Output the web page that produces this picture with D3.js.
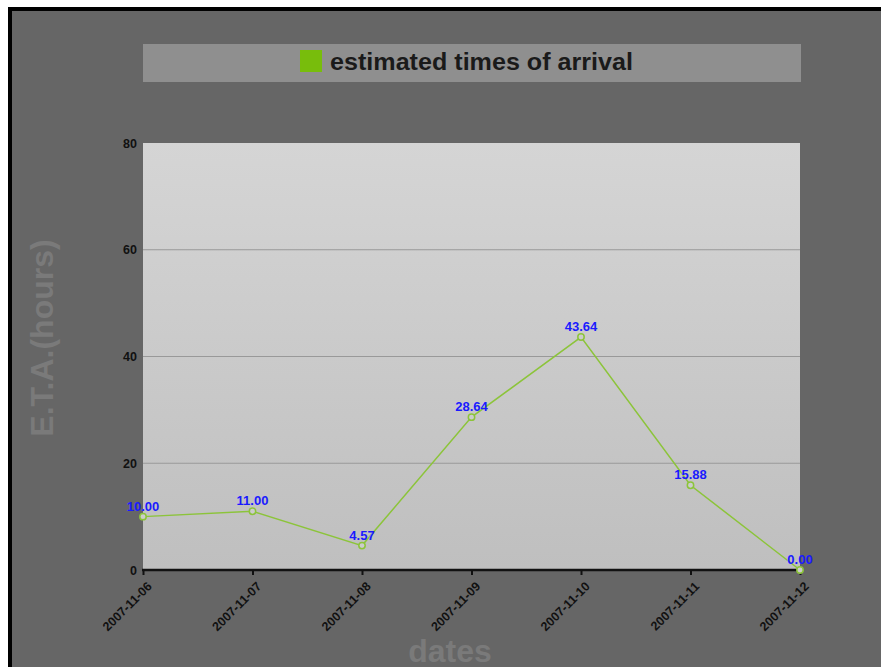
<!DOCTYPE html>
<html>
<head>
<meta charset="utf-8">
<script src="https://cdn.jsdelivr.net/npm/d3@7"></script>
<style>
  html, body { margin: 0; padding: 0; background: #ffffff; }
  svg { display: block; }
</style>
</head>
<body>
<div id="chart"></div>
<script>
// Series: estimated times of arrival per day
const dates = ["2007-11-06", "2007-11-07", "2007-11-08", "2007-11-09", "2007-11-10", "2007-11-11", "2007-11-12"];
const etaHours = [10.00, 11.00, 4.57, 28.64, 43.64, 15.88, 0.00];
const yTicks = [0, 20, 40, 60, 80];
const legendLabel = "estimated times of arrival";
const xTitle = "dates";
const yTitle = "E.T.A.(hours)";

const W = 881, H = 667;
const plot = { left: 143, right: 800, top: 143, bottom: 570 };
const font = "'Liberation Sans', Arial, Helvetica, sans-serif";
const green = "#8cc43a";

const svg = d3.select("#chart").append("svg")
  .attr("width", W).attr("height", H);

const defs = svg.append("defs");
const grad = defs.append("linearGradient")
  .attr("id", "plotBg").attr("x1", 0).attr("y1", 0).attr("x2", 0).attr("y2", 1);
grad.append("stop").attr("offset", "0%").attr("stop-color", "#d5d5d5");
grad.append("stop").attr("offset", "100%").attr("stop-color", "#bfbfbf");

// Outer frame: black border on the top and left, dark grey panel
svg.append("rect").attr("x", 8).attr("y", 7).attr("width", W - 8).attr("height", H - 7)
  .attr("fill", "#000");
svg.append("rect").attr("x", 12).attr("y", 11).attr("width", W - 12).attr("height", H - 11)
  .attr("fill", "#666666");

// Legend strip
svg.append("rect").attr("x", 143).attr("y", 44).attr("width", 658).attr("height", 38)
  .attr("fill", "#8f8f8f");
svg.append("rect").attr("x", 300).attr("y", 50).attr("width", 22).attr("height", 22)
  .attr("fill", "#78bd0c");
svg.append("text").attr("x", 330).attr("y", 70)
  .attr("font-family", font).attr("font-weight", "bold").attr("font-size", 23)
  .attr("fill", "#1a1a1a")
  .attr("textLength", 303).attr("lengthAdjust", "spacingAndGlyphs")
  .text(legendLabel);

// Scales
const x = d3.scalePoint().domain(dates).range([plot.left, plot.right]);
const y = d3.scaleLinear().domain([0, 80]).range([plot.bottom, plot.top]);

// Plot background
svg.append("rect")
  .attr("x", plot.left).attr("y", plot.top)
  .attr("width", plot.right - plot.left).attr("height", plot.bottom - plot.top)
  .attr("fill", "url(#plotBg)");

// Horizontal grid lines
svg.append("g").selectAll("line")
  .data(yTicks.filter(d => d > 0 && d < 80))
  .join("line")
  .attr("x1", plot.left).attr("x2", plot.right)
  .attr("y1", d => y(d)).attr("y2", d => y(d))
  .attr("stroke", "#999999").attr("stroke-width", 1);

// Y axis (labels only)
const yAxis = svg.append("g")
  .attr("transform", `translate(${plot.left},0)`)
  .call(d3.axisLeft(y).tickValues(yTicks).tickSize(0).tickPadding(6));
yAxis.select(".domain").remove();
yAxis.selectAll("text")
  .attr("font-family", font).attr("font-weight", "bold").attr("font-size", 12.5)
  .attr("fill", "#111");

// X axis
const xAxis = svg.append("g")
  .attr("transform", `translate(0,${plot.bottom})`)
  .call(d3.axisBottom(x).tickSize(5).tickSizeOuter(0));
xAxis.select(".domain").attr("stroke", "#111").attr("stroke-width", 2.5)
  .attr("d", `M${plot.left - 1},0H${plot.right + 1}`);
xAxis.selectAll(".tick line").attr("stroke", "#111").attr("stroke-width", 2);
xAxis.selectAll("text")
  .attr("font-family", font).attr("font-weight", "bold").attr("font-size", 12.5)
  .attr("fill", "#111")
  .attr("text-anchor", "end")
  .attr("x", 0).attr("y", 0).attr("dy", "0.35em")
  .attr("transform", "translate(6,14) rotate(-45)");

// Axis titles
svg.append("text")
  .attr("transform", "translate(53,338) rotate(-90)")
  .attr("text-anchor", "middle")
  .attr("font-family", font).attr("font-weight", "bold").attr("font-size", 32)
  .attr("fill", "#7a7a7a")
  .text(yTitle);
svg.append("text")
  .attr("x", 450).attr("y", 662)
  .attr("text-anchor", "middle")
  .attr("font-family", font).attr("font-weight", "bold").attr("font-size", 32)
  .attr("fill", "#7a7a7a")
  .text(xTitle);

// Series line
const pts = dates.map((d, i) => ({ date: d, v: etaHours[i] }));
svg.append("path")
  .datum(pts)
  .attr("fill", "none").attr("stroke", green).attr("stroke-width", 1.5)
  .attr("d", d3.line().x(d => x(d.date)).y(d => y(d.v)));

// Markers
svg.append("g").selectAll("circle")
  .data(pts).join("circle")
  .attr("cx", d => x(d.date)).attr("cy", d => y(d.v)).attr("r", 3.2)
  .attr("fill", "#cccccc").attr("stroke", green).attr("stroke-width", 1.5);

// Value labels
svg.append("g").selectAll("text")
  .data(pts).join("text")
  .attr("x", d => x(d.date)).attr("y", d => y(d.v) - 6)
  .attr("text-anchor", "middle")
  .attr("font-family", font).attr("font-weight", "bold").attr("font-size", 13)
  .attr("fill", "#1a1aff")
  .text(d => d.v.toFixed(2));
</script>
</body>
</html>
